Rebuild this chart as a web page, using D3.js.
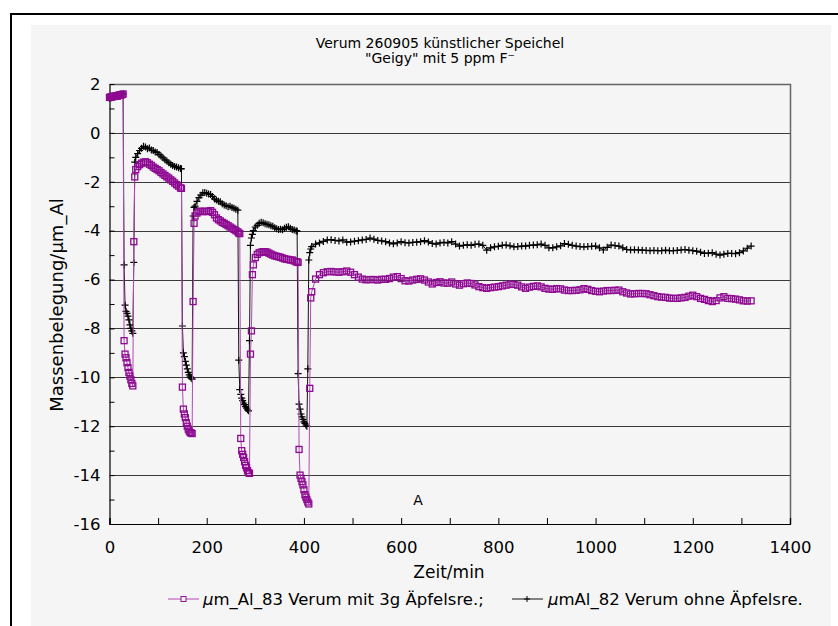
<!DOCTYPE html>
<html><head><meta charset="utf-8">
<script src="https://cdn.jsdelivr.net/npm/d3@7"></script>
<style>
body{margin:0;background:#fff}
text{font-family:"DejaVu Sans",Verdana,sans-serif;fill:#000}
</style>
</head><body>
<svg id="c" width="838" height="626"></svg>
<script>
// ---- data ----
const zeit = [
  0,2,4,6,8,10,12,14,16,18,20,22,24,26,28,
  30,32,34,36,38,40,42,44,46,48,
  50,52,
  54,58,62,66,70,74,78,82,86,90,94,98,102,106,110,114,118,122,126,130,134,138,142,146,
  148,150,152,154,156,158,160,162,164,166,168,170,
  172,174,
  176,180,184,188,192,196,200,204,208,212,216,220,224,228,232,236,240,244,248,252,256,260,264,
  266,268,270,272,274,276,278,280,282,284,286,288,290,292,294,296,
  300,304,308,312,316,320,324,328,332,336,340,344,348,352,356,360,364,368,372,376,380,384,
  386,388,390,392,394,396,398,400,402,404,406,408,410,412,414,
  416,424,432,440,448,456,464,472,480,488,
  496,504,512,520,528,536,544,552,560,568,
  576,584,592,600,608,616,624,632,640,648,
  656,664,672,680,688,696,704,712,720,728,
  736,744,752,760,768,776,784,792,800,808,
  816,824,832,840,848,856,864,872,880,888,
  896,904,912,920,928,936,944,952,960,968,
  976,984,992,1000,1008,1016,1024,1032,1040,1048,
  1056,1064,1072,1080,1088,1096,1104,1112,1120,1128,
  1136,1144,1152,1160,1168,1176,1184,1192,1200,1208,
  1216,1224,1232,1240,1248,1256,1264,1272,1280,1288,
  1296,1304,1312,1320
];
// µm_Al_83 Verum mit 3g Äpfelsre.
const al83 = [
  1.45,1.47,1.46,1.48,1.50,1.49,1.51,1.52,1.50,1.53,1.55,1.54,1.56,1.57,1.59,
  -8.50,-9.05,-9.20,-9.40,-9.60,-9.80,-9.95,-10.10,-10.25,-10.35,
  -4.45,-1.80,
  -1.50,-1.38,-1.30,-1.24,-1.20,-1.18,-1.22,-1.28,-1.33,-1.40,-1.45,-1.50,-1.55,-1.62,-1.68,-1.74,-1.80,-1.85,-1.92,-1.98,-2.05,-2.12,-2.18,-2.25,
  -2.27,-10.40,-11.30,-11.50,-11.65,-11.85,-12.00,-12.12,-12.20,-12.26,-12.28,-12.30,
  -6.90,-3.70,
  -3.40,-3.28,-3.22,-3.20,-3.22,-3.21,-3.22,-3.20,-3.18,-3.25,-3.35,-3.48,-3.55,-3.60,-3.66,-3.70,-3.75,-3.80,-3.85,-3.90,-3.95,-4.00,-4.05,
  -4.10,-4.12,-12.50,-13.00,-13.15,-13.28,-13.45,-13.60,-13.70,-13.82,-13.90,-13.93,-9.05,-8.10,-5.80,-5.40,
  -5.10,-4.97,-4.90,-4.88,-4.86,-4.86,-4.88,-4.92,-4.96,-5.00,-5.03,-5.05,-5.07,-5.09,-5.12,-5.15,-5.17,-5.18,-5.20,-5.20,-5.24,-5.27,
  -5.28,-5.30,-12.95,-14.00,-14.13,-14.27,-14.40,-14.60,-14.80,-14.90,-15.00,-15.10,-15.18,-10.45,-6.75,
  -6.50,-5.98,-5.80,-5.72,-5.68,-5.67,-5.69,-5.70,-5.68,-5.65,
  -5.70,-5.80,-5.90,-5.98,-6.01,-6.00,-6.00,-6.02,-5.99,-5.99,
  -5.96,-5.90,-5.88,-5.96,-6.05,-6.06,-6.02,-5.99,-5.97,-6.02,
  -6.10,-6.18,-6.12,-6.09,-6.14,-6.15,-6.10,-6.18,-6.23,-6.17,
  -6.14,-6.16,-6.22,-6.29,-6.33,-6.36,-6.33,-6.31,-6.29,-6.26,
  -6.23,-6.19,-6.20,-6.23,-6.30,-6.36,-6.31,-6.28,-6.26,-6.30,
  -6.36,-6.39,-6.40,-6.37,-6.38,-6.43,-6.45,-6.45,-6.44,-6.42,
  -6.37,-6.40,-6.45,-6.48,-6.50,-6.47,-6.45,-6.45,-6.44,-6.43,
  -6.50,-6.55,-6.59,-6.58,-6.57,-6.57,-6.58,-6.62,-6.66,-6.70,
  -6.72,-6.73,-6.76,-6.77,-6.77,-6.75,-6.73,-6.68,-6.64,-6.70,
  -6.77,-6.81,-6.86,-6.90,-6.86,-6.75,-6.70,-6.77,-6.78,-6.80,
  -6.83,-6.87,-6.88,-6.87
];
// µmAl_82 Verum ohne Äpfelsre.
const al82 = [
  1.42,1.45,1.44,1.48,1.47,1.50,1.49,1.52,1.51,1.55,1.53,1.56,1.58,1.57,1.60,
  -5.40,-7.05,-7.30,-7.38,-7.50,-7.65,-7.85,-8.00,-8.10,-8.20,
  -5.30,-1.20,
  -1.00,-0.85,-0.72,-0.63,-0.55,-0.58,-0.65,-0.62,-0.70,-0.72,-0.78,-0.80,-0.88,-0.95,-1.02,-1.10,-1.15,-1.22,-1.28,-1.33,-1.38,-1.40,-1.43,-1.46,
  -1.47,-7.90,-9.00,-9.15,-9.35,-9.50,-9.65,-9.80,-9.90,-9.98,-10.03,-10.07,
  -3.40,-3.05,
  -3.00,-2.80,-2.65,-2.55,-2.45,-2.44,-2.47,-2.50,-2.52,-2.60,-2.70,-2.75,-2.80,-2.82,-2.90,-2.95,-2.98,-3.02,-3.00,-3.05,-3.08,-3.12,-3.16,
  -9.30,-10.50,-10.70,-10.85,-10.95,-11.05,-11.12,-11.20,-11.26,-11.33,-11.37,-8.50,-4.60,-4.30,-4.15,-4.00,
  -3.85,-3.78,-3.70,-3.66,-3.68,-3.72,-3.74,-3.76,-3.80,-3.82,-3.88,-3.92,-3.95,-3.94,-3.96,-3.90,-3.86,-3.84,-3.90,-3.95,-3.97,-4.00,
  -4.02,-9.85,-11.10,-11.30,-11.50,-11.62,-11.72,-11.82,-11.88,-11.95,-12.00,-9.65,-5.20,-4.90,-4.75,
  -4.65,-4.55,-4.50,-4.44,-4.38,-4.37,-4.40,-4.42,-4.38,-4.47,
  -4.46,-4.43,-4.41,-4.38,-4.36,-4.30,-4.35,-4.40,-4.42,-4.45,
  -4.50,-4.54,-4.50,-4.45,-4.49,-4.50,-4.48,-4.47,-4.45,-4.41,
  -4.46,-4.52,-4.55,-4.50,-4.48,-4.50,-4.45,-4.55,-4.63,-4.60,
  -4.58,-4.60,-4.56,-4.55,-4.60,-4.80,-4.70,-4.66,-4.64,-4.60,
  -4.59,-4.62,-4.66,-4.65,-4.63,-4.63,-4.60,-4.59,-4.58,-4.55,
  -4.60,-4.70,-4.70,-4.66,-4.62,-4.53,-4.56,-4.60,-4.63,-4.65,
  -4.66,-4.65,-4.64,-4.63,-4.70,-4.79,-4.68,-4.59,-4.61,-4.63,
  -4.70,-4.77,-4.79,-4.78,-4.79,-4.80,-4.81,-4.82,-4.81,-4.82,
  -4.82,-4.80,-4.82,-4.82,-4.81,-4.79,-4.77,-4.80,-4.82,-4.84,
  -4.88,-4.93,-4.92,-4.90,-4.96,-5.00,-4.96,-4.93,-4.93,-4.94,
  -4.90,-4.83,-4.72,-4.63
];
const xTicks = [0,100,200,300,400,500,600,700,800,900,1000,1100,1200,1300,1400];
const xLabels = [0,200,400,600,800,1000,1200,1400];
const yTicks = [1,0,-1,-2,-3,-4,-5,-6,-7,-8,-9,-10,-11,-12,-13,-14,-15,-16];
const yLabels = [2,0,-2,-4,-6,-8,-10,-12,-14,-16];
const gridValues = [0,-2,-4,-6,-8,-10,-12,-14];
const titleLines = ["Verum 260905 künstlicher Speichel", "\"Geigy\" mit 5 ppm F\u207B"];
const seriesNames = ["m_Al_83 Verum mit 3g Äpfelsre.;", "mAl_82 Verum ohne Äpfelsre."];
const xTitle = "Zeit/min";
const yTitle = "Massenbelegung/µm_Al";

// ---- drawing ----
const svg = d3.select("#c");
const L = 109.5, R = 790, T = 84, B = 524;
const x = d3.scaleLinear().domain([0,1400]).range([L,R]);
const y = d3.scaleLinear().domain([-16,2]).range([B,T]);

// backgrounds and frame
svg.append("rect").attr("x",31).attr("y",25).attr("width",800).attr("height",601).attr("fill","#f5f5f5");
svg.append("line").attr("x1",10).attr("x2",838).attr("y1",14).attr("y2",14).attr("stroke","#000").attr("stroke-width",2);
svg.append("line").attr("x1",11).attr("x2",11).attr("y1",13).attr("y2",626).attr("stroke","#000").attr("stroke-width",2);

// gridlines
svg.append("g").selectAll("line").data(gridValues).join("line")
  .attr("x1",L).attr("x2",R)
  .attr("y1",d=>Math.round(y(d))+0.5).attr("y2",d=>Math.round(y(d))+0.5)
  .attr("stroke","#3a3a3a").attr("stroke-width",1);

// plot frame (top & right)
svg.append("path").attr("d",`M${L},${T+0.5}H${R+0.5}V${B}`).attr("fill","none").attr("stroke","#666").attr("stroke-width",1.5);

// x axis
const xAxis = d3.axisBottom(x).tickValues(xTicks).tickSize(-6).tickPadding(17)
  .tickFormat(d => xLabels.includes(d) ? d : "");
const gx = svg.append("g").attr("transform",`translate(0,${B})`).call(xAxis);
gx.select(".domain").attr("stroke","#000").attr("stroke-width",1.2);
gx.selectAll(".tick line").attr("stroke","#000");
gx.selectAll("text").style("font-size","16.5px").attr("fill","#000");

// y axis: minor ticks at odd values, labels at even
const yAxis = d3.axisLeft(y).tickValues(yTicks).tickSize(-5).tickPadding(9)
  .tickFormat(d => yLabels.includes(d) ? d : "");
const gy = svg.append("g").attr("transform",`translate(${L},0)`).call(yAxis);
gy.select(".domain").attr("stroke","#000").attr("stroke-width",1.2);
gy.selectAll(".tick line").attr("stroke","#000");
gy.selectAll("text").style("font-size","16.5px").attr("fill","#000");
gy.append("g").attr("transform",`translate(0,${y(2)+1})`).append("text")
  .attr("x",-9).attr("dy","0.32em").attr("text-anchor","end").style("font-size","16.5px").text(yLabels[0]);

// series
const pts83 = zeit.map((t,i)=>[t,al83[i]]);
const pts82 = zeit.map((t,i)=>[t,al82[i]]);
const line = d3.line().x(d=>x(d[0])).y(d=>y(d[1]));

const g82 = svg.append("g");
g82.append("path").datum(pts82).attr("d",line).attr("fill","none").attr("stroke","#111").attr("stroke-width",1);
g82.selectAll("path.m").data(pts82).join("path").attr("class","m")
  .attr("transform",d=>`translate(${x(d[0])},${y(d[1])})`)
  .attr("d","M-3.5,0H3.5M0,-3.5V3.5").attr("stroke","#000").attr("stroke-width",1.2).attr("fill","none");

const g83 = svg.append("g");
g83.append("path").datum(pts83).attr("d",line).attr("fill","none").attr("stroke","#b24ab2").attr("stroke-width",1);
g83.selectAll("rect").data(pts83).join("rect")
  .attr("x",d=>x(d[0])-3).attr("y",d=>y(d[1])-3).attr("width",6).attr("height",6)
  .attr("fill","none").attr("stroke","#8e0a92").attr("stroke-width",1.3);

// titles
svg.append("text").attr("x",440).attr("y",48).attr("text-anchor","middle").style("font-size","14px").text(titleLines[0]);
svg.append("text").attr("x",440).attr("y",63).attr("text-anchor","middle").style("font-size","14px").text(titleLines[1]);
svg.append("text").attr("x",449).attr("y",578).attr("text-anchor","middle").style("font-size","17px").text(xTitle);
svg.append("text").attr("transform","translate(63,305) rotate(-90)").attr("text-anchor","middle").style("font-size","18px").text(yTitle);
svg.append("text").attr("x",418).attr("y",505).attr("text-anchor","middle").style("font-size","14px").text("A");

// legend
const ly = 599;
svg.append("line").attr("x1",168).attr("x2",199).attr("y1",ly).attr("y2",ly).attr("stroke","#b24ab2");
svg.append("rect").attr("x",181).attr("y",ly-2.5).attr("width",5).attr("height",5).attr("fill","#f5f5f5").attr("stroke","#920f96");
const t1 = svg.append("text").attr("x",203).attr("y",ly+6).style("font-size","16.5px");
t1.append("tspan").style("font-style","italic").text("μ");
t1.append("tspan").text(seriesNames[0]);
svg.append("line").attr("x1",512).attr("x2",543).attr("y1",ly).attr("y2",ly).attr("stroke","#111");
svg.append("path").attr("d",`M${524},${ly}h6M${527},${ly-3}v6`).attr("stroke","#000");
const t2 = svg.append("text").attr("x",548).attr("y",ly+6).style("font-size","16.5px");
t2.append("tspan").style("font-style","italic").text("μ");
t2.append("tspan").text(seriesNames[1]);
</script>
</body></html>
